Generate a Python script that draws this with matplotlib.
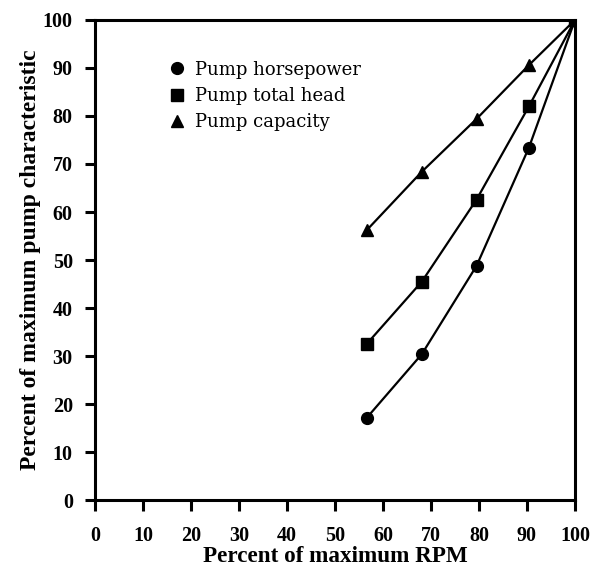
import matplotlib
matplotlib.use("Agg")
import matplotlib.pyplot as plt

rpm = [56.6, 68.1, 79.5, 90.4, 100]
horsepower = [17.1, 30.4, 48.8, 73.4, 100]
total_head = [32.5, 45.5, 62.6, 82.0, 100]
capacity = [56.2, 68.4, 79.4, 90.6, 100]
ticks = list(range(0, 101, 10))

plt.rcParams['font.family'] = ['Liberation Serif', 'DejaVu Serif']

fig = plt.figure(figsize=(6.0, 5.71), dpi=100)
ax = fig.add_axes([0.1583, 0.1243, 0.8, 0.8407])

ax.plot(rpm, horsepower, color='black', lw=1.6, marker='o', ms=8.5, label='Pump horsepower')
ax.plot(rpm, total_head, color='black', lw=1.6, marker='s', ms=8, label='Pump total head')
ax.plot(rpm, capacity, color='black', lw=1.6, marker='^', ms=8, label='Pump capacity')

ax.set_xlim(0, 100)
ax.set_ylim(0, 100)
ax.set_xticks(ticks)
ax.set_yticks(ticks)
for s in ax.spines.values():
    s.set_linewidth(2.2)
ax.tick_params(axis='both', direction='out', width=2.2, labelsize=14.5, color='black')
ax.tick_params(axis='x', length=8, pad=10.5)
ax.tick_params(axis='y', length=7, pad=9)
for lab in ax.get_xticklabels() + ax.get_yticklabels():
    lab.set_fontweight('bold')

ax.set_xlabel('Percent of maximum RPM', fontsize=16.7, fontweight='bold', labelpad=0.5)
ax.set_ylabel('Percent of maximum pump characteristic', fontsize=17, fontweight='bold', labelpad=1)

leg = ax.legend(loc='upper left', bbox_to_anchor=(0.145, 0.93), frameon=False,
                prop={'family': 'DejaVu Serif', 'size': 13},
                handlelength=0.6, handletextpad=0.7, labelspacing=0.45, borderaxespad=0)
for h in leg.legend_handles:
    h.set_linestyle('none')

fig.savefig('out.png', dpi=100)
